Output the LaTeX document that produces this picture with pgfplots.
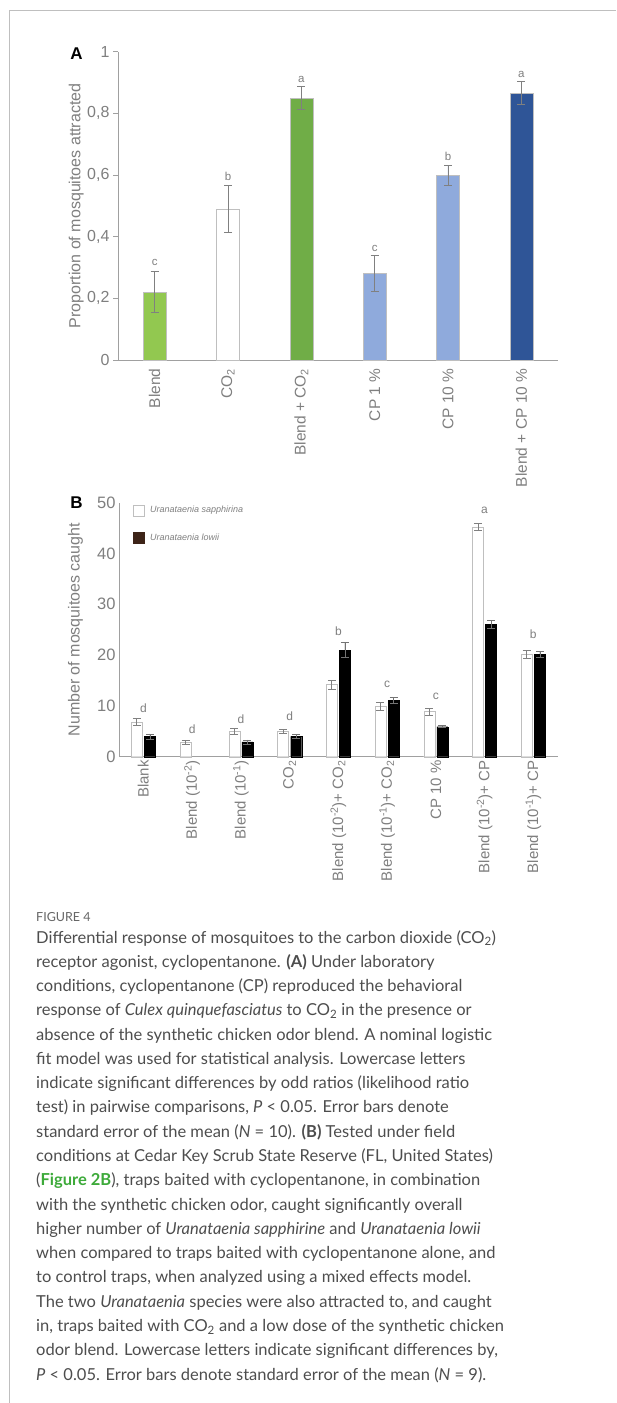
\documentclass[border=0pt]{standalone}
\usepackage{fontspec}
\setmainfont{Liberation Sans}
\newfontfamily\capfont{Lato}
\usepackage{pgfplots}
\pgfplotsset{compat=1.18}
\definecolor{lgreen}{HTML}{92C850}
\definecolor{dgreen}{HTML}{70AD47}
\definecolor{lblue}{HTML}{8FAADC}
\definecolor{dblue}{HTML}{2F5597}
\definecolor{barborder}{HTML}{BFBFBF}
\definecolor{axisgray}{HTML}{A0A0A0}
\definecolor{tickgray}{HTML}{7F7F7F}
\definecolor{errgray}{HTML}{808080}
\definecolor{captxt}{HTML}{4D4D4D}
\definecolor{figgreen}{HTML}{3DAA3A}
\definecolor{legbrown}{HTML}{3D2418}
\newcommand{\capline}[2]{\node[anchor=base west, inner sep=0pt, text=captxt, font=\capfont\fontsize{16.5}{20}\selectfont] at (36pt,{-943pt-(#1-1)*24.28pt}) {#2};}
\pgfplotsset{
  errbar/.style={error bars/y dir=both, error bars/y explicit,
    error bars/error bar style={draw=#1, line width=0.7pt},
    error bars/error mark options={rotate=90, draw=#1, mark size=4pt, line width=0.7pt}},
}
\begin{document}
\begin{tikzpicture}
\path[use as bounding box] (0pt,0pt) rectangle (616pt,-1403pt);
\draw[draw=black!25, line width=1pt] (9pt,-1403pt) -- (9pt,-10pt) -- (616pt,-10pt);
\node[font=\bfseries\fontsize{17}{20}\selectfont] at (76.5pt,-54pt) {A};
\node[font=\bfseries\fontsize{17}{20}\selectfont] at (76.5pt,-503pt) {B};
% Panel A
\begin{axis}[
  at={(118pt,-360pt)}, anchor=south west,
  scale only axis, width=440pt, height=308.3pt,
  xmin=-0.5, xmax=5.5, ymin=0, ymax=1,
  axis x line=bottom, axis y line=left,
  axis line style={-, draw=axisgray, line width=0.8pt},
  xtick={0,...,5},
  xticklabels={Blend, CO\textsubscript{2}, Blend + CO\textsubscript{2}, CP 1 \%, CP 10 \%, Blend + CP 10 \%},
  x tick style={draw=none},
  ytick={0,0.2,0.4,0.6,0.8,1},
  yticklabels={0,{0,2},{0,4},{0,6},{0,8},1},
  y tick style={draw=axisgray, line width=0.8pt},
  major tick length=5pt, tick align=outside,
  xticklabel style={rotate=90, anchor=east, font=\fontsize{15.5}{16}\selectfont, text=tickgray},
  yticklabel style={font=\fontsize{16}{18}\selectfont, text=tickgray},
  ylabel={Proportion of mosquitoes attracted},
  ylabel style={at={(axis description cs:-0.095,0.5)}, anchor=center, font=\fontsize{16}{18}\selectfont, text=tickgray},
  ybar, bar width=23pt, bar shift=0pt,
  clip=false,
]
\addplot[fill=lgreen, draw=barborder, errbar=errgray] coordinates {(0,0.22) +- (0,0.067)};
\addplot[fill=white, draw=barborder, errbar=errgray] coordinates {(1,0.49) +- (0,0.076)};
\addplot[fill=dgreen, draw=barborder, errbar=errgray] coordinates {(2,0.85) +- (0,0.037)};
\addplot[fill=lblue, draw=barborder, errbar=errgray] coordinates {(3,0.281) +- (0,0.057)};
\addplot[fill=lblue, draw=barborder, errbar=errgray] coordinates {(4,0.60) +- (0,0.033)};
\addplot[fill=dblue, draw=barborder, errbar=errgray] coordinates {(5,0.866) +- (0,0.037)};
\begin{scope}[every node/.style={font=\fontsize{11.5}{12}\selectfont, text=tickgray}]
\node at (axis cs:0,0.315) {c};
\node at (axis cs:1,0.595) {b};
\node at (axis cs:2,0.911) {a};
\node at (axis cs:3,0.363) {c};
\node at (axis cs:4,0.660) {b};
\node at (axis cs:5,0.925) {a};
\end{scope}
\end{axis}
% Panel B
\begin{axis}[
  at={(119pt,-756.7pt)}, anchor=south west,
  scale only axis, width=438.7pt, height=254pt,
  xmin=-0.5, xmax=8.5, ymin=0, ymax=50,
  axis x line=bottom, axis y line=left,
  axis line style={-, draw=axisgray, line width=0.8pt},
  xtick={0,...,8},
  xticklabels={Blank, Blend (10\textsuperscript{-2}), Blend (10\textsuperscript{-1}), CO\textsubscript{2}, Blend (10\textsuperscript{-2})+ CO\textsubscript{2}, Blend (10\textsuperscript{-1})+ CO\textsubscript{2}, CP 10 \%, Blend (10\textsuperscript{-2})+ CP, Blend (10\textsuperscript{-1})+ CP},
  ytick={0,10,20,30,40,50},
  /pgf/number format/assume math mode=true,
  major tick length=0pt,
  xticklabel style={rotate=90, anchor=east, font=\fontsize{15}{16}\selectfont, text=tickgray},
  yticklabel style={font=\fontsize{16.5}{18}\selectfont, text=tickgray},
  ylabel={Number of mosquitoes caught},
  ylabel style={at={(axis description cs:-0.099,0.5)}, anchor=center, font=\fontsize{16}{18}\selectfont, text=tickgray},
  ybar, bar width=11pt,
  clip=false,
]
\addplot[fill=white, draw=barborder, bar shift=-6.6pt, errbar=errgray] coordinates {
  (0,6.8) +- (0,0.7)
  (1,2.9) +- (0,0.4)
  (2,5.0) +- (0,0.6)
  (3,5.0) +- (0,0.4)
  (4,14.2) +- (0,0.9)
  (5,9.9) +- (0,0.8)
  (6,8.9) +- (0,0.7)
  (7,45.2) +- (0,0.7)
  (8,20.2) +- (0,0.8)
};
\addplot[fill=black, draw=black, bar shift=6.6pt, errbar=black!55] coordinates {
  (0,4.0) +- (0,0.5)
  (2,2.9) +- (0,0.4)
  (3,4.0) +- (0,0.4)
  (4,21.0) +- (0,1.5)
  (5,11.1) +- (0,0.6)
  (6,5.9) +- (0,0.2)
  (7,26.0) +- (0,0.8)
  (8,20.2) +- (0,0.6)
};
\begin{scope}[every node/.style={font=\fontsize{12}{13}\selectfont, text=tickgray}]
\node at (axis cs:0,9.6) {d};
\node at (axis cs:1,5.5) {d};
\node at (axis cs:2,7.3) {d};
\node at (axis cs:3,7.9) {d};
\node at (axis cs:4,24.7) {b};
\node at (axis cs:5,14.2) {c};
\node at (axis cs:6,11.9) {c};
\node at (axis cs:7,48.5) {a};
\node at (axis cs:8,24.1) {b};
\end{scope}
\end{axis}
% legend B
\draw[draw=barborder, fill=white, line width=0.6pt] (133pt,-505pt) rectangle (144pt,-516pt);
\node[anchor=west, inner sep=0pt, text=tickgray, font=\itshape\fontsize{9}{10}\selectfont] at (150pt,-510.5pt) {Uranataenia sapphirina};
\draw[draw=legbrown, fill=legbrown] (133pt,-532pt) rectangle (144pt,-543pt);
\node[anchor=west, inner sep=0pt, text=tickgray, font=\itshape\fontsize{9}{10}\selectfont] at (150pt,-537.5pt) {Uranataenia lowii};
% caption
\node[anchor=base west, inner sep=0pt, text=black!60, font=\capfont\fontsize{12.5}{14}\selectfont] at (36pt,-921pt) {FIGURE 4};
\capline{1}{Differential response of mosquitoes to the carbon dioxide (CO\textsubscript{2})}
\capline{2}{receptor agonist, cyclopentanone. \textbf{(A)} Under laboratory}
\capline{3}{conditions, cyclopentanone (CP) reproduced the behavioral}
\capline{4}{response of \textit{Culex quinquefasciatus} to CO\textsubscript{2} in the presence or}
\capline{5}{absence of the synthetic chicken odor blend. A nominal logistic}
\capline{6}{fit model was used for statistical analysis. Lowercase letters}
\capline{7}{indicate significant differences by odd ratios (likelihood ratio}
\capline{8}{test) in pairwise comparisons, \textit{P} < 0.05. Error bars denote}
\capline{9}{standard error of the mean (\textit{N} = 10). \textbf{(B)} Tested under field}
\capline{10}{conditions at Cedar Key Scrub State Reserve (FL, United States)}
\capline{11}{({\bfseries\color{figgreen}Figure 2B}), traps baited with cyclopentanone, in combination}
\capline{12}{with the synthetic chicken odor, caught significantly overall}
\capline{13}{higher number of \textit{Uranataenia sapphirine} and \textit{Uranataenia lowii}}
\capline{14}{when compared to traps baited with cyclopentanone alone, and}
\capline{15}{to control traps, when analyzed using a mixed effects model.}
\capline{16}{The two \textit{Uranataenia} species were also attracted to, and caught}
\capline{17}{in, traps baited with CO\textsubscript{2} and a low dose of the synthetic chicken}
\capline{18}{odor blend. Lowercase letters indicate significant differences by,}
\capline{19}{\textit{P} < 0.05. Error bars denote standard error of the mean (\textit{N} = 9).}
\end{tikzpicture}
\end{document}
